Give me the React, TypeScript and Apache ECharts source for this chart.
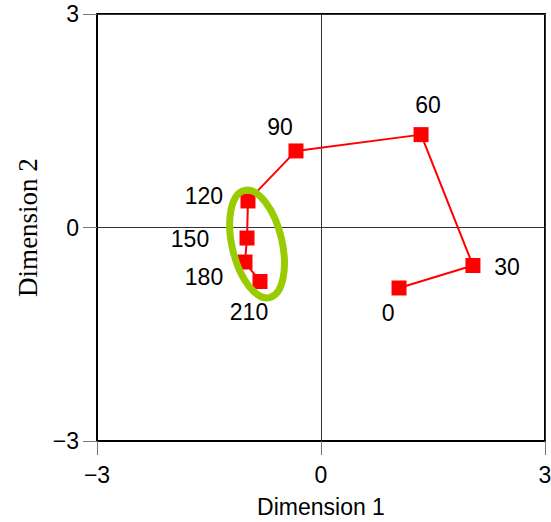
import React, { useEffect, useRef } from "react";
import * as echarts from "echarts";

const times = ["0", "30", "60", "90", "120", "150", "180", "210"];
const dim1 = [1.045, 2.035, 1.34, -0.335, -0.978, -0.991, -1.018, -0.817];
const dim2 = [-0.85, -0.534, 1.305, 1.076, 0.373, -0.148, -0.485, -0.759];
const axisMin = -3;
const axisMax = 3;
const axisStep = 3;
const labelOffsets = [
  [-11, 25], [34, 1], [7, -30], [-16, -24], [-44, -5], [-57, 1], [-41, 15], [-11, 30],
];
const ellipseCenter = [-0.87, -0.218];

export default function App() {
  const ref = useRef<HTMLDivElement>(null);
  useEffect(() => {
    document.body.style.margin = "0";
    const chart = echarts.init(ref.current!, undefined, { renderer: "svg" });
    const fmt = (v: number) => (v < 0 ? "\u2212" + Math.abs(v) : String(v));
    const sans = "Liberation Sans";
    chart.setOption({
      animation: false,
      grid: {
        left: 97, top: 14, right: 6, bottom: 81,
        outerBoundsMode: "none",
        containLabel: false,
        show: true, borderColor: "#000", borderWidth: 2,
      },
      xAxis: {
        type: "value",
        min: axisMin,
        max: axisMax,
        interval: axisStep,
        axisLine: { show: true, onZero: false, lineStyle: { color: "#000", width: 2 } },
        axisTick: { show: true, length: 14, lineStyle: { color: "#777", width: 1 } },
        splitLine: { show: true, lineStyle: { color: "#333", width: 1 } },
        axisLabel: { show: true, color: "#000", fontSize: 23, fontFamily: sans, margin: 22, formatter: fmt },
        name: "Dimension 1",
        nameLocation: "middle",
        nameGap: 54,
        nameTextStyle: { color: "#000", fontSize: 23, fontFamily: sans },
      },
      yAxis: {
        type: "value",
        min: axisMin,
        max: axisMax,
        interval: axisStep,
        axisLine: { show: true, onZero: false, lineStyle: { color: "#000", width: 2 } },
        axisTick: { show: true, length: 14, lineStyle: { color: "#777", width: 1 } },
        splitLine: { show: true, lineStyle: { color: "#333", width: 1 } },
        axisLabel: { show: true, color: "#000", fontSize: 23, fontFamily: sans, margin: 18, formatter: fmt },
        name: "Dimension 2",
        nameLocation: "middle",
        nameGap: 56,
        nameTextStyle: { color: "#000", fontSize: 27, fontFamily: "Liberation Serif" },
      },
      series: [
        {
          type: "line",
          data: dim1.map((x, i) => ({
            value: [x, dim2[i]],
            label: {
              show: true,
              formatter: times[i],
              position: "inside",
              offset: labelOffsets[i],
              color: "#000",
              fontSize: 23,
              fontFamily: sans,
            },
          })),
          symbol: "rect",
          symbolSize: 15,
          itemStyle: { color: "#ff0000" },
          lineStyle: { color: "#ff0000", width: 2 },
        },
      ],
    });
    const c = chart.convertToPixel({ gridIndex: 0 }, ellipseCenter) as number[];
    chart.setOption({
      graphic: [
        {
          type: "ellipse",
          x: c[0] + 1,
          y: c[1] + 1,
          rotation: 0.23,
          z: 100,
          shape: { cx: 0, cy: 0, rx: 25, ry: 55 },
          style: { fill: "none", stroke: "#99cc00", lineWidth: 7 },
        },
      ],
    });
    return () => chart.dispose();
  }, []);
  return <div ref={ref} style={{ width: 551, height: 522 }} />;
}
